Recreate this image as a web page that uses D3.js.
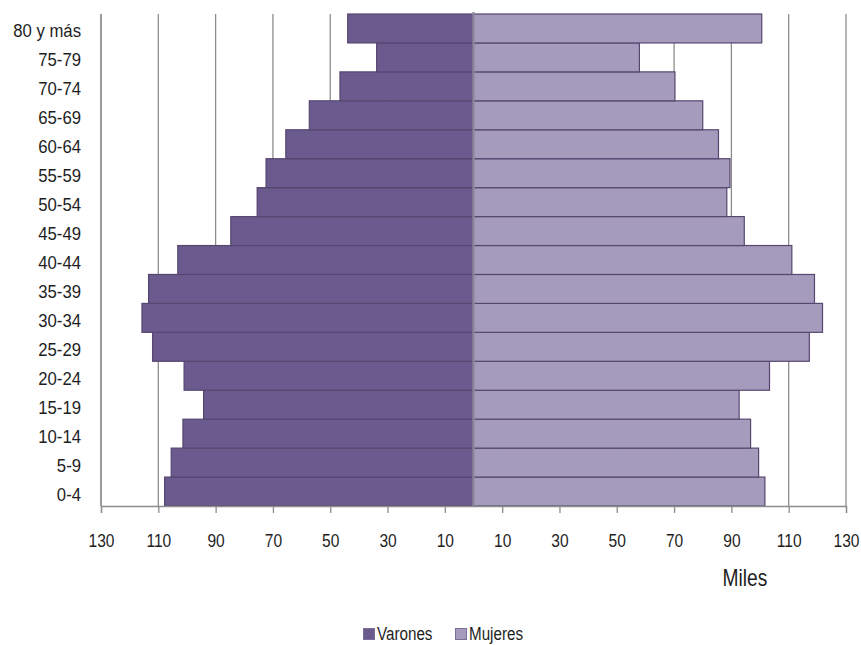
<!DOCTYPE html>
<html><head><meta charset="utf-8">
<script src="https://cdn.jsdelivr.net/npm/d3@7"></script>
<style>
body{margin:0;background:#fff;}
text{font-family:"Liberation Sans",Arial,sans-serif;fill:#1e1e1e;}
</style></head>
<body><svg id="c" width="861" height="645"></svg>
<script>
const categories = ["0-4","5-9","10-14","15-19","20-24","25-29","30-34","35-39","40-44","45-49","50-54","55-59","60-64","65-69","70-74","75-79","80 y más"];
const varones = [107.8,105.5,101.4,94.2,101,112,115.7,113.4,103.2,84.7,75.5,72.4,65.5,57.3,46.6,33.8,43.9];
const mujeres = [101.7,99.5,96.7,92.7,103.3,117.2,121.8,119,111.1,94.5,88.4,89.5,85.5,80,70.3,57.9,100.6];
const tickValues = [-130,-110,-90,-70,-50,-30,-10,10,30,50,70,90,110,130];
const seriesNames = ["Varones","Mujeres"];
const colors = ["#6a5a8e","#a59bbc"];

const svg = d3.select("#c");
const x = d3.scaleLinear().domain([-130,130]).range([101,846]);
const y = d3.scaleBand().domain(categories.slice().reverse()).range([14,506]).padding(0);

// gridlines
svg.append("g").selectAll("line").data(tickValues).join("line")
  .attr("x1",d=>x(d)).attr("x2",d=>x(d)).attr("y1",y.range()[0]).attr("y2",y.range()[1])
  .attr("stroke","#8c8c8c").attr("stroke-width",1.3);

// bars
const rows = categories.map((c,i)=>({c, v:varones[i], m:mujeres[i]}));
svg.append("g").selectAll("rect").data(rows).join("rect")
  .attr("x",d=>x(-d.v)).attr("width",d=>x(0)-x(-d.v))
  .attr("y",d=>y(d.c)).attr("height",y.bandwidth())
  .attr("fill",colors[0]).attr("stroke","#55476f").attr("stroke-width",1.2);
svg.append("g").selectAll("rect").data(rows).join("rect")
  .attr("x",x(0)).attr("width",d=>x(d.m)-x(0))
  .attr("y",d=>y(d.c)).attr("height",y.bandwidth())
  .attr("fill",colors[1]).attr("stroke","#55476f").attr("stroke-width",1.2);

// center line
svg.append("line").attr("x1",x(0)).attr("x2",x(0)).attr("y1",12).attr("y2",506)
  .attr("stroke","#8e8a9a").attr("stroke-width",2.2);

// y axis line
svg.append("line").attr("x1",x(-130)).attr("x2",x(-130)).attr("y1",14).attr("y2",506)
  .attr("stroke","#8c8c8c").attr("stroke-width",1.3);

// x axis
const xAxis = d3.axisBottom(x).tickValues(tickValues).tickSize(7)
  .tickFormat(d=>Math.abs(d));
const gx = svg.append("g").attr("transform","translate(0,506)").call(xAxis);
gx.select(".domain").attr("stroke","#8c8c8c").attr("stroke-width",1.3);
gx.selectAll(".tick line").attr("stroke","#8c8c8c").attr("stroke-width",1.3);
gx.selectAll("text").attr("y",41).attr("dy",0).attr("font-size","19px").attr("fill","#1e1e1e")
  .attr("transform","scale(0.82,1)")
  .style("font-family",'"Liberation Sans",Arial,sans-serif');

// y labels (narrow)
svg.append("g").selectAll("text").data(categories).join("text")
  .attr("transform",d=>`translate(81,${y(d)+y.bandwidth()/2+9}) scale(0.88,1)`)
  .attr("text-anchor","end").attr("font-size","19px").text(d=>d);

// Miles
svg.append("text").attr("transform","translate(745,586) scale(0.8,1)").attr("text-anchor","middle")
  .attr("font-size","24px").text("Miles");

// legend
const legendX = [363,455];
const lg = svg.append("g");
seriesNames.forEach((n,i)=>{
  lg.append("rect").attr("x",legendX[i]+0.5).attr("y",628.5).attr("width",11).attr("height",11)
    .attr("fill",colors[i]).attr("stroke","#7a6f96").attr("stroke-width",1);
  lg.append("text").attr("transform",`translate(${legendX[i]+14},640) scale(0.8,1)`)
    .attr("font-size","19px").text(n);
});
</script></body></html>
